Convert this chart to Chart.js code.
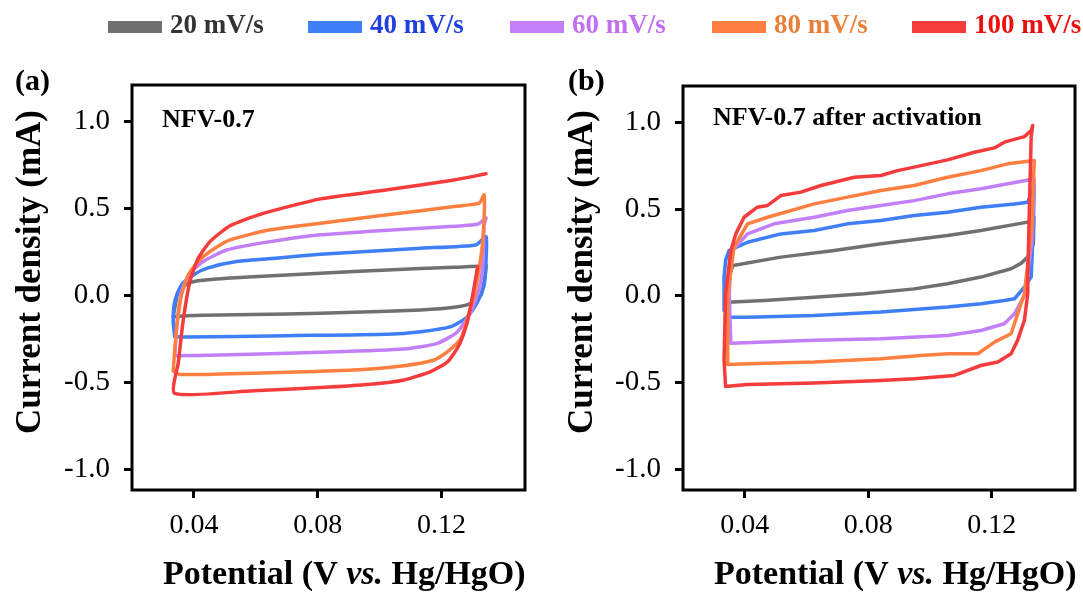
<!DOCTYPE html>
<html>
<head>
<meta charset="utf-8">
<script src="https://cdn.jsdelivr.net/npm/chart.js@4.4.1/dist/chart.umd.min.js"></script>
<style>
  body { margin: 0; background: #fff; }
  #wrap { position: relative; width: 1083px; height: 594px; overflow: hidden; }
  #chartA { position: absolute; left: 0; top: 0; }
  #chartB { position: absolute; left: 545px; top: 0; }
  .sw { position: absolute; top: 21px; width: 54px; height: 12px; }
  .lt { position: absolute; top: 9px; font: bold 27px "Liberation Serif", serif; white-space: nowrap; }
</style>
</head>
<body>
<div id="wrap">
  <canvas id="chartA" width="545" height="594"></canvas>
  <canvas id="chartB" width="538" height="594"></canvas>
  <div id="legend"></div>
</div>
<script>
// scan rates and colours
const rates = ['20 mV/s', '40 mV/s', '60 mV/s', '80 mV/s', '100 mV/s'];
const lineColors = ['#707070', '#3f7ff5', '#c27ff7', '#ff7f40', '#f53c3c'];
const textColors = ['#333333', '#1f3fe0', '#c070f0', '#e8803a', '#e81010'];
const xTicks = [0.04, 0.08, 0.12];
const yTicks = [-1.0, -0.5, 0.0, 0.5, 1.0];

// (a) NFV-0.7, points are [potential V, current mA]
const a20 = [[0.0333,-0.123],[0.0338,-0.075],[0.0349,0.021],[0.0376,0.063],[0.0409,0.082],[0.0506,0.098],[0.0592,0.107],[0.0809,0.127],[0.1025,0.146],[0.1241,0.162],[0.1333,0.168],[0.1344,0.175],[0.1338,0.079],[0.1328,0.002],[0.1295,-0.046],[0.1241,-0.069],[0.1133,-0.084],[0.0917,-0.098],[0.07,-0.107],[0.0484,-0.113],[0.0376,-0.118],[0.0333,-0.123]];
const a40 = [[0.0338,-0.238],[0.0333,-0.151],[0.0338,-0.036],[0.036,0.06],[0.0398,0.117],[0.0441,0.155],[0.0538,0.194],[0.0673,0.215],[0.0809,0.236],[0.0971,0.254],[0.1133,0.271],[0.1311,0.29],[0.1344,0.338],[0.1344,0.2],[0.1338,0.06],[0.1317,-0.036],[0.1284,-0.123],[0.123,-0.18],[0.1133,-0.209],[0.1025,-0.224],[0.07,-0.232],[0.0376,-0.24],[0.0338,-0.238]];
const a60 = [[0.0338,-0.347],[0.0346,-0.151],[0.036,0.021],[0.0387,0.127],[0.043,0.194],[0.0506,0.261],[0.0647,0.309],[0.0809,0.348],[0.0971,0.368],[0.1133,0.386],[0.1317,0.409],[0.1344,0.447],[0.1338,0.405],[0.1333,0.155],[0.1322,0.04],[0.1295,-0.094],[0.1252,-0.209],[0.1187,-0.276],[0.1079,-0.309],[0.0809,-0.328],[0.0484,-0.344],[0.0338,-0.347]];
const a80 = [[0.0333,-0.435],[0.0344,-0.19],[0.036,0.002],[0.0382,0.117],[0.0414,0.194],[0.0452,0.252],[0.0517,0.319],[0.0647,0.377],[0.0809,0.415],[0.1025,0.463],[0.1241,0.511],[0.1322,0.53],[0.1338,0.578],[0.1335,0.35],[0.1325,0.19],[0.1306,0.0],[0.1284,-0.13],[0.1263,-0.248],[0.122,-0.324],[0.1176,-0.372],[0.1079,-0.405],[0.0917,-0.43],[0.07,-0.443],[0.0484,-0.453],[0.0355,-0.455],[0.0333,-0.435]];
const a100 = [[0.1317,0.165],[0.1301,0.002],[0.1284,-0.151],[0.1257,-0.286],[0.122,-0.382],[0.1165,-0.439],[0.1079,-0.487],[0.0971,-0.512],[0.0809,-0.531],[0.0592,-0.549],[0.0338,-0.564],[0.035,-0.382],[0.0365,-0.151],[0.0387,0.079],[0.0414,0.213],[0.0452,0.309],[0.0517,0.4],[0.0614,0.466],[0.0809,0.555],[0.1025,0.607],[0.1241,0.664],[0.1344,0.699]];

// (b) NFV-0.7 after activation
const b20 = [[0.0345,-0.037],[0.0345,0.012],[0.0352,0.127],[0.0362,0.175],[0.0517,0.223],[0.069,0.261],[0.0841,0.3],[0.1057,0.348],[0.1165,0.377],[0.1317,0.425],[0.1337,0.454],[0.1335,0.3],[0.1317,0.223],[0.1295,0.187],[0.1263,0.156],[0.1165,0.108],[0.1057,0.069],[0.0949,0.04],[0.0787,0.012],[0.0625,-0.008],[0.0463,-0.027],[0.0345,-0.037]];
const b40 = [[0.0355,-0.123],[0.0335,-0.085],[0.0333,0.108],[0.0338,0.204],[0.0349,0.261],[0.0409,0.309],[0.0517,0.357],[0.0625,0.377],[0.0733,0.415],[0.0841,0.434],[0.0949,0.463],[0.1057,0.482],[0.1165,0.511],[0.1274,0.53],[0.1317,0.54],[0.1338,0.636],[0.1335,0.4],[0.1328,0.108],[0.1306,0.05],[0.1274,-0.017],[0.1241,-0.027],[0.1165,-0.046],[0.1057,-0.065],[0.0841,-0.094],[0.0625,-0.113],[0.0409,-0.123],[0.0355,-0.123]];
const b60 = [[0.0355,-0.273],[0.035,0.0],[0.0355,0.252],[0.0409,0.357],[0.0495,0.415],[0.0625,0.453],[0.0733,0.492],[0.0841,0.521],[0.0949,0.549],[0.1057,0.588],[0.1165,0.617],[0.1252,0.646],[0.1338,0.674],[0.133,0.3],[0.1306,0.002],[0.1274,-0.104],[0.1241,-0.161],[0.1165,-0.2],[0.1057,-0.229],[0.0841,-0.248],[0.0625,-0.257],[0.0355,-0.273]];
const b80 = [[0.0344,-0.396],[0.0345,0.0],[0.0365,0.28],[0.0409,0.415],[0.0474,0.453],[0.0625,0.53],[0.0733,0.569],[0.0841,0.607],[0.0949,0.636],[0.1057,0.684],[0.1165,0.722],[0.1252,0.761],[0.1338,0.78],[0.133,0.4],[0.1306,0.012],[0.1284,-0.104],[0.1263,-0.219],[0.1209,-0.267],[0.1155,-0.334],[0.1057,-0.334],[0.0971,-0.344],[0.0841,-0.363],[0.0625,-0.382],[0.0409,-0.392],[0.0344,-0.396]];
const b100 = [[0.0338,-0.523],[0.0333,-0.373],[0.0338,0.012],[0.0355,0.261],[0.0371,0.357],[0.0398,0.453],[0.0441,0.511],[0.0474,0.521],[0.0517,0.578],[0.0582,0.598],[0.0647,0.636],[0.0755,0.684],[0.0841,0.694],[0.0895,0.722],[0.0949,0.742],[0.1057,0.784],[0.1144,0.828],[0.1209,0.853],[0.1241,0.886],[0.1306,0.918],[0.1328,0.953],[0.1333,0.982],[0.1328,0.915],[0.1322,0.492],[0.1317,0.108],[0.1317,0.012],[0.1306,-0.142],[0.1284,-0.257],[0.1263,-0.334],[0.122,-0.382],[0.1165,-0.402],[0.1079,-0.459],[0.0949,-0.478],[0.0841,-0.488],[0.0625,-0.503],[0.0409,-0.511],[0.0338,-0.523]];

const serif = '"Liberation Serif", "Times New Roman", serif';

// frame, panel tag, inset title and axis titles
const decor = {
  id: 'decor',
  afterDraw(chart, args, opts) {
    const { ctx, chartArea: a } = chart;
    ctx.save();
    ctx.strokeStyle = '#000';
    ctx.lineWidth = 3;
    ctx.strokeRect(a.left, a.top, a.right - a.left, a.bottom - a.top);

    ctx.fillStyle = '#000';
    ctx.textBaseline = 'alphabetic';
    ctx.font = 'bold 30px ' + serif;
    ctx.fillText(opts.tag, opts.tagX, 90);
    ctx.font = 'bold 26px ' + serif;
    ctx.fillText(opts.inset, a.left + 30, opts.insetY);

    // y title
    ctx.save();
    ctx.translate(opts.yTitleX, 272);
    ctx.rotate(-Math.PI / 2);
    ctx.font = 'bold 35px ' + serif;
    ctx.textAlign = 'center';
    ctx.textBaseline = 'middle';
    ctx.fillText('Current density (mA)', 0, 0);
    ctx.restore();

    // x title with italic "vs."
    const parts = [['Potential (V ', 'bold'], ['vs.', 'italic bold'], [' Hg/HgO)', 'bold']];
    let x = a.left + 31;
    parts.forEach(([t, st]) => {
      ctx.font = st + ' 34px ' + serif;
      ctx.fillText(t, x, 584);
      x += ctx.measureText(t).width;
    });
    ctx.restore();
  }
};

function makeChart(id, sets, cfg) {
  const tickFont = { family: serif, size: 28 };
  const grid = { display: true, drawOnChartArea: false, drawTicks: true, tickLength: 8, tickWidth: 3, tickColor: '#000', color: '#000' };
  return new Chart(document.getElementById(id), {
    type: 'scatter',
    data: {
      datasets: sets.map((pts, i) => ({
        label: rates[i],
        data: pts.map(p => ({ x: p[0], y: p[1] })),
        showLine: true,
        borderColor: lineColors[i],
        backgroundColor: lineColors[i],
        borderWidth: 3.5,
        pointRadius: 0,
        tension: cfg.tension,
        borderJoinStyle: 'round',
        borderCapStyle: 'round',
        order: cfg.order[i]
      }))
    },
    options: {
      responsive: false,
      animation: false,
      layout: { padding: { top: cfg.top, right: cfg.right, left: 0, bottom: 0 } },
      plugins: { legend: { display: false }, tooltip: { enabled: false }, decor: cfg.decor },
      scales: {
        x: {
          type: 'linear', min: 0.02, max: 0.147,
          afterBuildTicks: s => { s.ticks = xTicks.map(v => ({ value: v })); },
          afterFit: s => { s.height = 104; },
          ticks: { font: tickFont, color: '#000', padding: 11, maxRotation: 0, autoSkip: false, callback: v => v.toFixed(2) },
          grid: grid,
          border: { display: false }
        },
        y: {
          type: 'linear', min: -1.12, max: 1.21,
          afterBuildTicks: s => { s.ticks = yTicks.map(v => ({ value: v })); },
          afterFit: s => { s.width = cfg.yw; },
          ticks: { font: { family: serif, size: 29 }, color: '#000', padding: 14, autoSkip: false, callback: v => v.toFixed(1) },
          grid: grid,
          border: { display: false }
        }
      }
    },
    plugins: [decor]
  });
}

makeChart('chartA', [a20, a40, a60, a80, a100], {
  top: 85, right: 20, yw: 132, tension: 0.2,
  order: [4, 3, 2, 1, 0],
  decor: { tag: '(a)', tagX: 15, inset: 'NFV-0.7', insetY: 127, yTitleX: 31 }
});
makeChart('chartB', [b20, b40, b60, b80, b100], {
  top: 86, right: 8, yw: 138, tension: 0,
  order: [4, 3, 2, 1, 0],
  decor: { tag: '(b)', tagX: 23, inset: 'NFV-0.7 after activation', insetY: 125, yTitleX: 38 }
});

// legend row
const legend = document.getElementById('legend');
const legendX = [108, 308, 510, 712, 912];
rates.forEach((r, i) => {
  const sw = document.createElement('div');
  sw.className = 'sw';
  sw.style.left = legendX[i] + 'px';
  sw.style.background = lineColors[i];
  legend.appendChild(sw);
  const t = document.createElement('span');
  t.className = 'lt';
  t.style.left = (legendX[i] + 62) + 'px';
  t.style.color = textColors[i];
  t.textContent = r;
  legend.appendChild(t);
});
</script>
</body>
</html>
